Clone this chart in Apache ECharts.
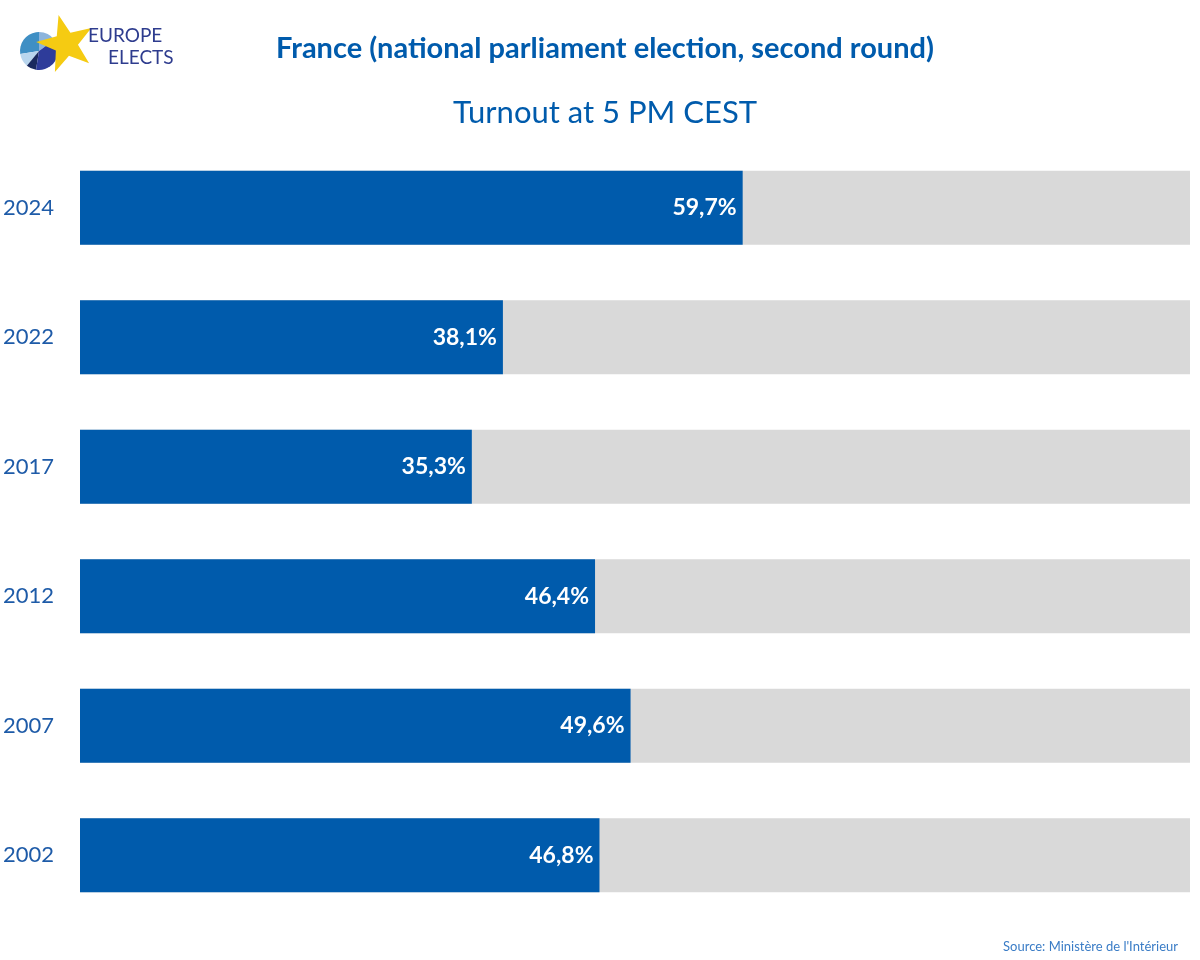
<!DOCTYPE html>
<html><head><meta charset="utf-8">
<script src="https://cdn.jsdelivr.net/npm/echarts@6/dist/echarts.min.js"></script>
<style>html,body{margin:0;padding:0;background:#fff}#c{width:1200px;height:960px}</style>
</head><body><div id="c"></div>
<script>
const years = ['2024','2022','2017','2012','2007','2002'];
const turnout = [59.7, 38.1, 35.3, 46.4, 49.6, 46.8];
const titleText = 'France (national parliament election, second round)';
const subtitleText = 'Turnout at 5 PM CEST';
const sourceText = 'Source: Ministère de l\'Intérieur';

const FONT = "Lato,'Noto Sans',sans-serif";
const chart = echarts.init(document.getElementById('c'));

function starPoints(cx, cy, R, r, rot) {
  const pts = [];
  for (let i = 0; i < 10; i++) {
    const rad = (i % 2 === 0) ? R : r;
    const a = rot + i * Math.PI / 5;
    pts.push([cx + rad * Math.sin(a), cy - rad * Math.cos(a)]);
  }
  return pts;
}

chart.setOption({
  backgroundColor: '#fff',
  animation: false,
  title: [
    { text: titleText, left: 600, top: 29, textAlign: 'center',
      textStyle: { fontFamily: FONT, fontSize: 29, fontWeight: 'bold', color: '#005BAC' } },
    { text: subtitleText, left: 600, top: 92, textAlign: 'center',
      textStyle: { fontFamily: FONT, fontSize: 31, fontWeight: 'normal', color: '#005BAC' } },
    { text: sourceText, right: 17, top: 935,
      textStyle: { fontFamily: FONT, fontSize: 13, fontWeight: 'normal', color: '#3A7CC6' } }
  ],
  grid: { left: 80, right: 10, top: 143, bottom: 40, containLabel: false, outerBoundsMode: 'none' },
  xAxis: { type: 'value', min: 0, max: 100, show: false },
  yAxis: {
    type: 'category', data: years, inverse: true,
    axisLine: { show: false }, axisTick: { show: false },
    axisLabel: { margin: 26, fontFamily: FONT, fontSize: 22, color: '#1E5BA8' }
  },
  series: [{
    type: 'bar', data: turnout, barWidth: 74,
    itemStyle: { color: '#005BAC' },
    showBackground: true,
    backgroundStyle: { color: '#D9D9D9' },
    label: {
      show: true, position: 'insideRight', distance: 6,
      formatter: p => p.value.toFixed(1).replace('.', ',') + '%',
      fontFamily: FONT, fontSize: 23, fontWeight: 'bold', color: '#fff'
    }
  }],
  graphic: [
    { type: 'sector', shape: { cx: 39, cy: 51, r: 19, startAngle: -Math.PI/2, endAngle: -Math.PI/5 }, style: { fill: '#8CB4DC' } },
    { type: 'sector', shape: { cx: 39, cy: 51, r: 19, startAngle: Math.PI*0.95, endAngle: Math.PI*1.5 }, style: { fill: '#3F8FC4' } },
    { type: 'sector', shape: { cx: 39, cy: 51, r: 19, startAngle: Math.PI*0.72, endAngle: Math.PI*0.95 }, style: { fill: '#B9D6EE' } },
    { type: 'sector', shape: { cx: 39, cy: 51, r: 19, startAngle: Math.PI*0.55, endAngle: Math.PI*0.72 }, style: { fill: '#1A2A5E' } },
    { type: 'sector', shape: { cx: 39, cy: 51, r: 19, startAngle: -Math.PI/5, endAngle: Math.PI*0.55 }, style: { fill: '#2E3C9A' } },
    { type: 'polygon', shape: { points: starPoints(66, 44, 30, 12, -0.25) }, style: { fill: '#F5CB12' } },
    { type: 'text', left: 88, top: 26, style: { text: 'EUROPE', font: "19px " + FONT, fill: '#2E3C8E' } },
    { type: 'text', left: 108, top: 48, style: { text: 'ELECTS', font: "19px " + FONT, fill: '#2E3C8E' } }
  ]
});
</script></body></html>
